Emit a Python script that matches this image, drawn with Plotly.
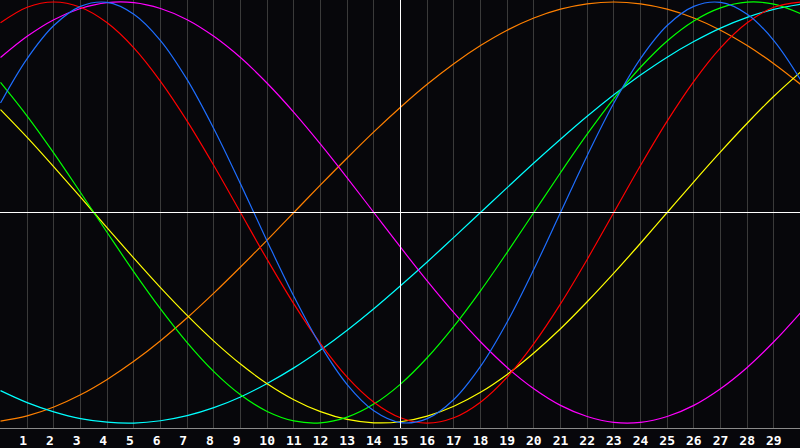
import plotly.graph_objects as go

days = list(range(0, 31))
tick_days = list(range(1, 30))

physical = [0.520,0.731,0.888,0.979,0.998,0.942,0.817,0.631,0.398,0.136,-0.136,-0.398,-0.631,-0.817,-0.942,-0.998,-0.979,-0.888,-0.731,-0.520,-0.270,-0.000,0.270,0.520,0.731,0.888,0.979,0.998,0.942,0.817,0.631]
emotional = [0.901,0.975,1.000,0.975,0.901,0.782,0.623,0.434,0.223,0.000,-0.223,-0.434,-0.623,-0.782,-0.901,-0.975,-1.000,-0.975,-0.901,-0.782,-0.623,-0.434,-0.223,0.000,0.223,0.434,0.623,0.782,0.901,0.975,1.000]
intellectual = [0.618,0.458,0.282,0.095,-0.095,-0.282,-0.458,-0.618,-0.756,-0.866,-0.945,-0.990,-0.999,-0.972,-0.910,-0.815,-0.690,-0.541,-0.372,-0.189,0.000,0.189,0.372,0.541,0.690,0.815,0.910,0.972,0.999,0.990,0.945]
intuitive = [0.736,0.837,0.916,0.969,0.997,0.997,0.969,0.916,0.837,0.736,0.614,0.476,0.325,0.165,0.000,-0.165,-0.325,-0.476,-0.614,-0.736,-0.837,-0.916,-0.969,-0.997,-0.997,-0.969,-0.916,-0.837,-0.736,-0.614,-0.476]
aesthetic = [0.489,0.357,0.217,0.073,-0.073,-0.217,-0.357,-0.489,-0.611,-0.720,-0.813,-0.889,-0.946,-0.983,-0.999,-0.994,-0.967,-0.920,-0.854,-0.769,-0.667,-0.552,-0.424,-0.288,-0.146,-0.000,0.146,0.288,0.424,0.552,0.667]
awareness = [-0.991,-0.966,-0.924,-0.866,-0.793,-0.707,-0.609,-0.500,-0.383,-0.259,-0.131,-0.000,0.131,0.259,0.383,0.500,0.609,0.707,0.793,0.866,0.924,0.966,0.991,1.000,0.991,0.966,0.924,0.866,0.793,0.707,0.609]
spiritual = [-0.846,-0.903,-0.947,-0.979,-0.996,-1.000,-0.989,-0.965,-0.927,-0.876,-0.812,-0.738,-0.653,-0.559,-0.457,-0.348,-0.235,-0.118,0.000,0.118,0.235,0.348,0.457,0.559,0.653,0.738,0.812,0.876,0.927,0.965,0.989]

today = 15

series = [
    ("awareness", awareness, "#ff8000"),
    ("spiritual", spiritual, "#00ffff"),
    ("aesthetic", aesthetic, "#ffff00"),
    ("intuitive", intuitive, "#ff00ff"),
    ("intellectual", intellectual, "#00ff00"),
    ("emotional", emotional, "#ff0000"),
    ("physical", physical, "#1e6eff"),
]

fig = go.Figure()
for name, vals, c in series:
    fig.add_trace(go.Scatter(x=days, y=vals, name=name, mode="lines",
                             line=dict(color=c, width=1.2, shape="spline"), showlegend=False))

tick_text = [(str(v) + "\u00a0") if v < 10 else str(v) for v in tick_days]
fig.update_layout(width=800, height=448, margin=dict(l=0, r=0, t=0, b=20, autoexpand=False),
                  paper_bgcolor="#07070b", plot_bgcolor="#07070b")
fig.update_xaxes(range=[-0.01875, 29.98125], tickvals=tick_days, ticktext=tick_text, showgrid=True,
                 gridcolor="#3a3a3a", gridwidth=1, automargin=False,
                 showline=True, linecolor="#8a8a8a", linewidth=1, mirror=True, ticks="",
                 tickfont=dict(family="DejaVu Sans Mono", size=13, color="white", weight="bold"),
                 zeroline=False)
fig.update_yaxes(range=[-1.0236, 1.0094], showgrid=False, showticklabels=False, zeroline=False,
                 showline=True, linecolor="#8a8a8a", linewidth=1, mirror=False, automargin=False)
fig.add_hline(y=0, line=dict(color="white", width=1), layer="above")
fig.add_vline(x=today, line=dict(color="white", width=1), layer="above")
fig.write_html("out.html", config={"displayModeBar": False},
               post_script="document.body.style.margin='0px';")
